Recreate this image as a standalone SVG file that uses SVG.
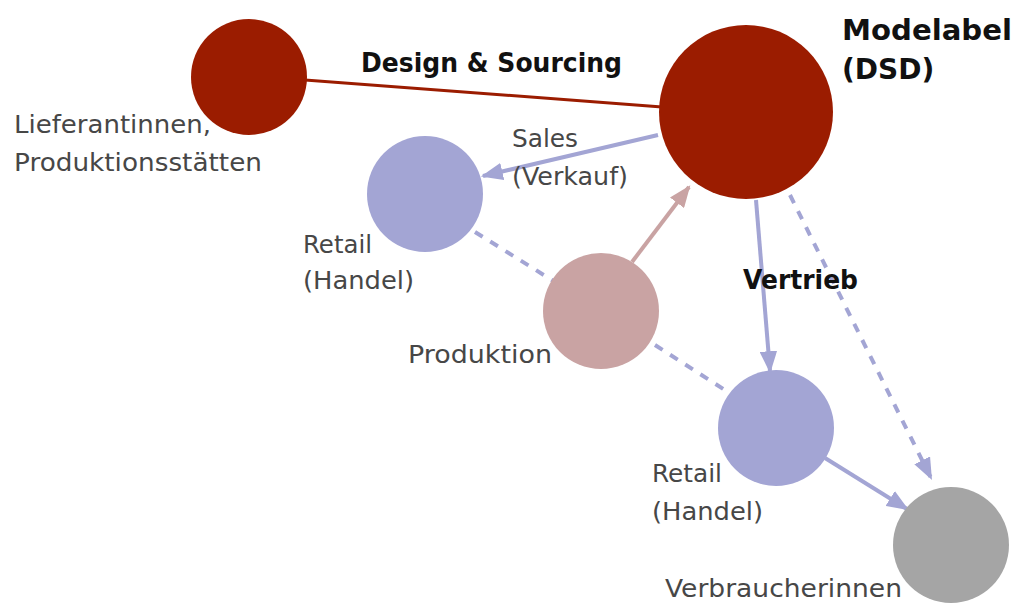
<svg xmlns="http://www.w3.org/2000/svg" width="1015" height="603" viewBox="0 0 1015 603">
<style>
.lbl{font-family:"DejaVu Sans","Liberation Sans",sans-serif;font-size:25px;fill:#474747}
.bold{font-family:"DejaVu Sans","Liberation Sans",sans-serif;font-size:27px;font-weight:bold;fill:#111}
.big{font-family:"DejaVu Sans","Liberation Sans",sans-serif;font-size:28px;font-weight:bold;fill:#111}
.purple{stroke:#A3A5D4;stroke-width:4;fill:none}
.dash{stroke:#A3A5D4;stroke-width:4;fill:none;stroke-dasharray:9 9}
</style>
<defs>
<marker id="ap" viewBox="0 0 10 8" refX="9" refY="4" markerWidth="5.5" markerHeight="4.4" markerUnits="strokeWidth" orient="auto"><path d="M0,0L10,4L0,8z" fill="#A3A5D4"/></marker>
<marker id="ar" viewBox="0 0 10 8" refX="9" refY="4" markerWidth="5.5" markerHeight="4.4" markerUnits="strokeWidth" orient="auto"><path d="M0,0L10,4L0,8z" fill="#C9A3A3"/></marker>
</defs>
<rect width="1015" height="603" fill="#fff"/>
<g id="connectors">
<line x1="305" y1="80" x2="662" y2="107" stroke="#9B1C00" stroke-width="3"/>
<line x1="658" y1="135" x2="483" y2="176" class="purple" marker-end="url(#ap)"/>
<line x1="632" y1="262" x2="689" y2="187" stroke="#C9A3A3" stroke-width="4" marker-end="url(#ar)"/>
<line x1="756" y1="200" x2="770" y2="371" class="purple" marker-end="url(#ap)"/>
<line x1="790" y1="195" x2="931" y2="478" class="dash" marker-end="url(#ap)"/>
<line x1="825" y1="458" x2="907" y2="509" class="purple" marker-end="url(#ap)"/>
<line x1="475" y1="232" x2="555" y2="282" class="dash"/>
<line x1="655" y1="345" x2="728" y2="392" class="dash"/>
</g>
<g id="supplier"><circle cx="249" cy="77" r="58" fill="#9B1C00"/><text class="lbl" x="14" y="133" textLength="197" lengthAdjust="spacingAndGlyphs">Lieferantinnen,</text><text class="lbl" x="14" y="171" textLength="248" lengthAdjust="spacingAndGlyphs">Produktionsstätten</text></g>
<g id="modelabel"><circle cx="746" cy="112" r="87" fill="#9B1C00"/><text class="big" x="842" y="40" textLength="170" lengthAdjust="spacingAndGlyphs">Modelabel</text><text class="big" x="842" y="79">(DSD)</text></g>
<g id="retail1"><circle cx="425" cy="194" r="58" fill="#A3A5D4"/><text class="lbl" x="303" y="253" textLength="69" lengthAdjust="spacingAndGlyphs">Retail</text><text class="lbl" x="303" y="289" textLength="111" lengthAdjust="spacingAndGlyphs">(Handel)</text></g>
<g id="produktion"><circle cx="601" cy="311" r="58" fill="#C9A3A3"/><text class="lbl" x="408" y="363" textLength="144" lengthAdjust="spacingAndGlyphs">Produktion</text></g>
<g id="retail2"><circle cx="776" cy="428" r="58" fill="#A3A5D4"/><text class="lbl" x="652" y="482" textLength="70" lengthAdjust="spacingAndGlyphs">Retail</text><text class="lbl" x="652" y="520" textLength="111" lengthAdjust="spacingAndGlyphs">(Handel)</text></g>
<g id="verbraucher"><circle cx="951" cy="545" r="58" fill="#A5A5A5"/><text class="lbl" x="665" y="597" textLength="237" lengthAdjust="spacingAndGlyphs">Verbraucherinnen</text></g>
<g id="labels"><text class="bold" x="361" y="72" textLength="261" lengthAdjust="spacingAndGlyphs">Design &amp; Sourcing</text><text class="lbl" x="512" y="147" textLength="66" lengthAdjust="spacingAndGlyphs">Sales</text><text class="lbl" x="512" y="185" textLength="116" lengthAdjust="spacingAndGlyphs">(Verkauf)</text><text class="bold" x="743" y="289" textLength="115" lengthAdjust="spacingAndGlyphs">Vertrieb</text></g>
</svg>
